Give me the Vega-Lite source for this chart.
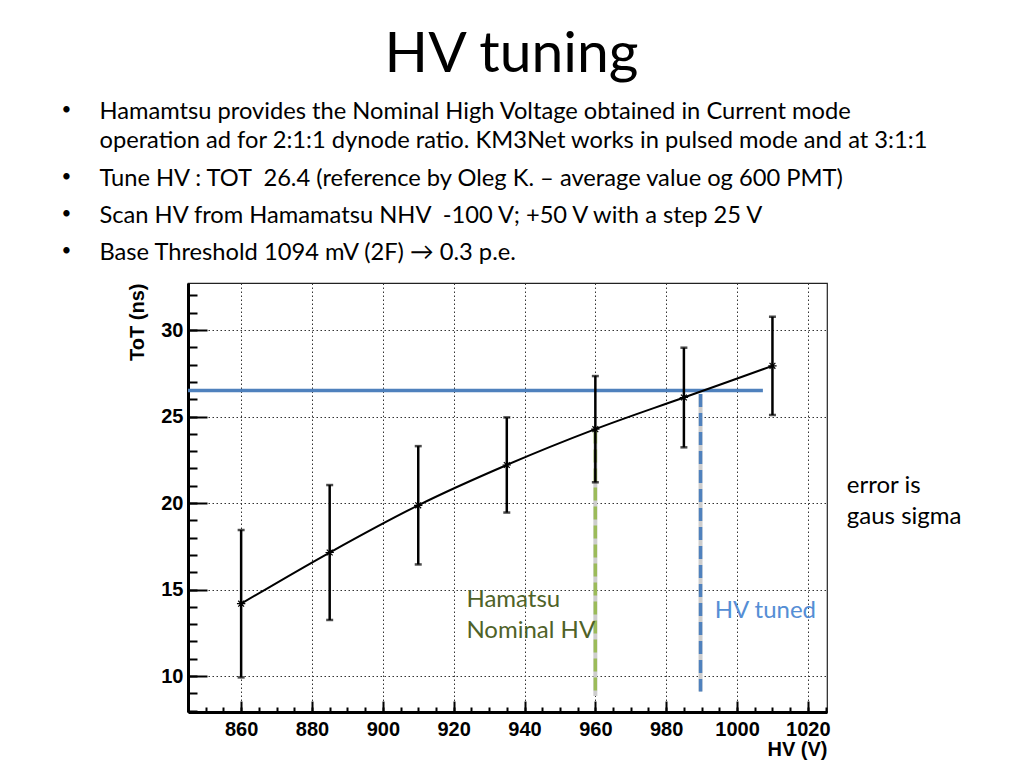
{
  "$schema": "https://vega.github.io/schema/vega-lite/v6.json",
  "width": 639,
  "height": 429,
  "autosize": {"type": "none"},
  "padding": {"left": 188, "top": 283, "right": 197, "bottom": 56},
  "background": "white",
  "config": {"view": {"stroke": "#222", "strokeWidth": 1.2}, "font": "Lato"},
  "title": {"text": "HV tuning", "font": "Lato", "fontSize": 57, "fontWeight": "normal", "color": "black", "anchor": "middle", "frame": "group", "dx": 4, "offset": 16},
  "datasets": {
    "scan": [
      {"hv": 860, "tot": 14.18, "err": 4.26},
      {"hv": 885, "tot": 17.14, "err": 3.9},
      {"hv": 910, "tot": 19.87, "err": 3.42},
      {"hv": 935, "tot": 22.2, "err": 2.75},
      {"hv": 960, "tot": 24.27, "err": 3.07},
      {"hv": 985, "tot": 26.1, "err": 2.88},
      {"hv": 1010, "tot": 27.93, "err": 2.84}
    ]
  },
  "data": {"name": "scan"},
  "resolve": {"axis": {"x": "independent", "y": "independent"}},
  "layer": [
    {
      "mark": {"type": "point", "opacity": 0},
      "encoding": {
        "x": {"field": "hv", "type": "quantitative", "scale": {"domain": [845, 1025.4], "nice": false, "zero": false},
          "axis": {"orient": "bottom", "values": [850,855,860,865,870,875,880,885,890,895,900,905,910,915,920,925,930,935,940,945,950,955,960,965,970,975,980,985,990,995,1000,1005,1010,1015,1020,1025], "tickSize": -5, "tickWidth": 2, "tickColor": "black", "labels": false, "domain": false, "grid": false, "title": null}},
        "y": {"field": "tot", "type": "quantitative", "scale": {"domain": [7.92, 32.72], "nice": false, "zero": false},
          "axis": {"orient": "left", "values": [8,9,10,11,12,13,14,15,16,17,18,19,20,21,22,23,24,25,26,27,28,29,30,31,32], "tickSize": -9, "tickWidth": 2, "tickColor": "black", "labels": false, "domain": false, "grid": false, "title": null}}
      }
    },
    {
      "layer": [
        {
          "data": {"values": [{}]},
          "mark": {"type": "rule", "color": "#4F81BD", "strokeWidth": 3.5},
          "encoding": {"x": {"datum": 845}, "x2": {"datum": 1007.3}, "y": {"datum": 26.5}}
        },
        {
          "data": {"values": [{}]},
          "mark": {"type": "rule", "color": "#cdcdcd", "strokeWidth": 4},
          "encoding": {"x": {"datum": 960}, "y": {"datum": 24.2}, "y2": {"datum": 8.85}}
        },
        {
          "data": {"values": [{}]},
          "mark": {"type": "rule", "color": "#9BBB59", "strokeWidth": 3.5, "strokeDash": [13, 6]},
          "encoding": {"x": {"datum": 960}, "y": {"datum": 24.2}, "y2": {"datum": 8.85}}
        },
        {
          "data": {"values": [{}]},
          "mark": {"type": "rule", "color": "#cdcdcd", "strokeWidth": 4},
          "encoding": {"x": {"datum": 989.7}, "y": {"datum": 26.3}, "y2": {"datum": 9.1}}
        },
        {
          "data": {"values": [{}]},
          "mark": {"type": "rule", "color": "#4F81BD", "strokeWidth": 3.5, "strokeDash": [13, 6]},
          "encoding": {"x": {"datum": 989.7}, "y": {"datum": 26.3}, "y2": {"datum": 9.1}}
        },
        {
          "mark": {"type": "line", "color": "black", "strokeWidth": 2, "interpolate": "monotone"},
          "encoding": {
            "x": {"field": "hv", "type": "quantitative", "scale": {"domain": [845, 1025.4], "nice": false, "zero": false},
              "axis": {"orient": "bottom", "title": "HV (V)", "values": [860,880,900,920,940,960,980,1000,1020], "format": "d",
                "tickSize": -11, "tickWidth": 2, "tickColor": "black", "domainColor": "black", "domainWidth": 3,
                "labelFont": "Liberation Sans", "labelFontWeight": "bold", "labelFontSize": 20, "labelColor": "black", "labelPadding": 18, "labelFlush": false, "labelOverlap": false,
                "titleFont": "Liberation Sans", "titleFontWeight": "bold", "titleFontSize": 20, "titleColor": "black", "titleAnchor": "end", "titlePadding": 0,
                "grid": true, "gridColor": "#333", "gridDash": [1.5, 2.5], "gridWidth": 1}},
            "y": {"field": "tot", "type": "quantitative", "scale": {"domain": [7.92, 32.72], "nice": false, "zero": false},
              "axis": {"orient": "left", "title": "ToT (ns)", "values": [10,15,20,25,30],
                "tickSize": -19, "tickWidth": 2, "tickColor": "black", "domainColor": "black", "domainWidth": 3,
                "labelFont": "Liberation Sans", "labelFontWeight": "bold", "labelFontSize": 20, "labelColor": "black", "labelPadding": 24, "labelFlush": false, "labelOverlap": false,
                "titleFont": "Liberation Sans", "titleFontWeight": "bold", "titleFontSize": 20, "titleColor": "black", "titleAnchor": "end", "titlePadding": 13,
                "grid": true, "gridColor": "#333", "gridDash": [1.5, 2.5], "gridWidth": 1}}
          }
        },
        {
          "mark": {"type": "errorbar", "ticks": {"size": 7, "thickness": 2.5, "color": "black"}, "rule": {"strokeWidth": 2.5, "color": "black"}},
          "encoding": {
            "x": {"field": "hv", "type": "quantitative"},
            "y": {"field": "tot", "type": "quantitative", "title": "ToT (ns)"},
            "yError": {"field": "err"}
          }
        },
        {
          "mark": {"type": "point", "shape": "M-1,0L1,0M0,-1L0,1M-0.7,-0.7L0.7,0.7M-0.7,0.7L0.7,-0.7", "size": 70, "stroke": "black", "strokeWidth": 1.2, "filled": false, "opacity": 1},
          "encoding": {
            "x": {"field": "hv", "type": "quantitative"},
            "y": {"field": "tot", "type": "quantitative"}
          }
        },
        {
          "data": {"values": [{"label": ["Hamatsu", "Nominal HV"]}]},
          "mark": {"type": "text", "font": "Lato", "fontSize": 24, "color": "#4F6228", "align": "left", "baseline": "middle", "lineHeight": 31},
          "encoding": {"x": {"datum": 923.6}, "y": {"datum": 14.39}, "text": {"field": "label"}}
        },
        {
          "data": {"values": [{"label": "HV tuned"}]},
          "mark": {"type": "text", "font": "Lato", "fontSize": 24, "color": "#558ED5", "align": "left", "baseline": "middle"},
          "encoding": {"x": {"datum": 993.7}, "y": {"datum": 13.76}, "text": {"field": "label"}}
        },
        {
          "data": {"values": [{"label": ["error is", "gaus sigma"]}]},
          "mark": {"type": "text", "font": "Lato", "fontSize": 24, "color": "black", "align": "left", "baseline": "middle", "lineHeight": 31},
          "encoding": {"x": {"datum": 1031}, "y": {"datum": 20.98}, "text": {"field": "label"}}
        },
        {
          "data": {"values": [{"label": "•"}]},
          "mark": {"type": "text", "font": "Lato", "fontSize": 17, "color": "black", "align": "left", "baseline": "middle"},
          "encoding": {"x": {"datum": 809.3}, "y": {"datum": 42.72}, "text": {"field": "label"}}
        },
        {
          "data": {"values": [{"label": "Hamamtsu provides the Nominal High Voltage obtained in Current mode"}]},
          "mark": {"type": "text", "font": "Lato", "fontSize": 23.7, "color": "black", "align": "left", "baseline": "middle"},
          "encoding": {"x": {"datum": 820}, "y": {"datum": 42.6}, "text": {"field": "label"}}
        },
        {
          "data": {"values": [{"label": "operation ad for 2:1:1 dynode ratio. KM3Net works in pulsed mode and at 3:1:1"}]},
          "mark": {"type": "text", "font": "Lato", "fontSize": 23.7, "color": "black", "align": "left", "baseline": "middle"},
          "encoding": {"x": {"datum": 820}, "y": {"datum": 40.95}, "text": {"field": "label"}}
        },
        {
          "data": {"values": [{"label": "•"}]},
          "mark": {"type": "text", "font": "Lato", "fontSize": 17, "color": "black", "align": "left", "baseline": "middle"},
          "encoding": {"x": {"datum": 809.3}, "y": {"datum": 38.84}, "text": {"field": "label"}}
        },
        {
          "data": {"values": [{"label": "Tune HV : TOT\u00a0 26.4 (reference by Oleg K. – average value og 600 PMT)"}]},
          "mark": {"type": "text", "font": "Lato", "fontSize": 23.7, "color": "black", "align": "left", "baseline": "middle"},
          "encoding": {"x": {"datum": 820}, "y": {"datum": 38.75}, "text": {"field": "label"}}
        },
        {
          "data": {"values": [{"label": "•"}]},
          "mark": {"type": "text", "font": "Lato", "fontSize": 17, "color": "black", "align": "left", "baseline": "middle"},
          "encoding": {"x": {"datum": 809.3}, "y": {"datum": 36.71}, "text": {"field": "label"}}
        },
        {
          "data": {"values": [{"label": "Scan HV from Hamamatsu NHV\u00a0 -100 V; +50 V with a step 25 V"}]},
          "mark": {"type": "text", "font": "Lato", "fontSize": 23.7, "color": "black", "align": "left", "baseline": "middle"},
          "encoding": {"x": {"datum": 820}, "y": {"datum": 36.62}, "text": {"field": "label"}}
        },
        {
          "data": {"values": [{"label": "•"}]},
          "mark": {"type": "text", "font": "Lato", "fontSize": 17, "color": "black", "align": "left", "baseline": "middle"},
          "encoding": {"x": {"datum": 809.3}, "y": {"datum": 34.57}, "text": {"field": "label"}}
        },
        {
          "data": {"values": [{"label": "Base Threshold 1094 mV (2F) → 0.3 p.e."}]},
          "mark": {"type": "text", "font": "Lato", "fontSize": 23.7, "color": "black", "align": "left", "baseline": "middle"},
          "encoding": {"x": {"datum": 820}, "y": {"datum": 34.48}, "text": {"field": "label"}}
        }
      ]
    }
  ]
}
